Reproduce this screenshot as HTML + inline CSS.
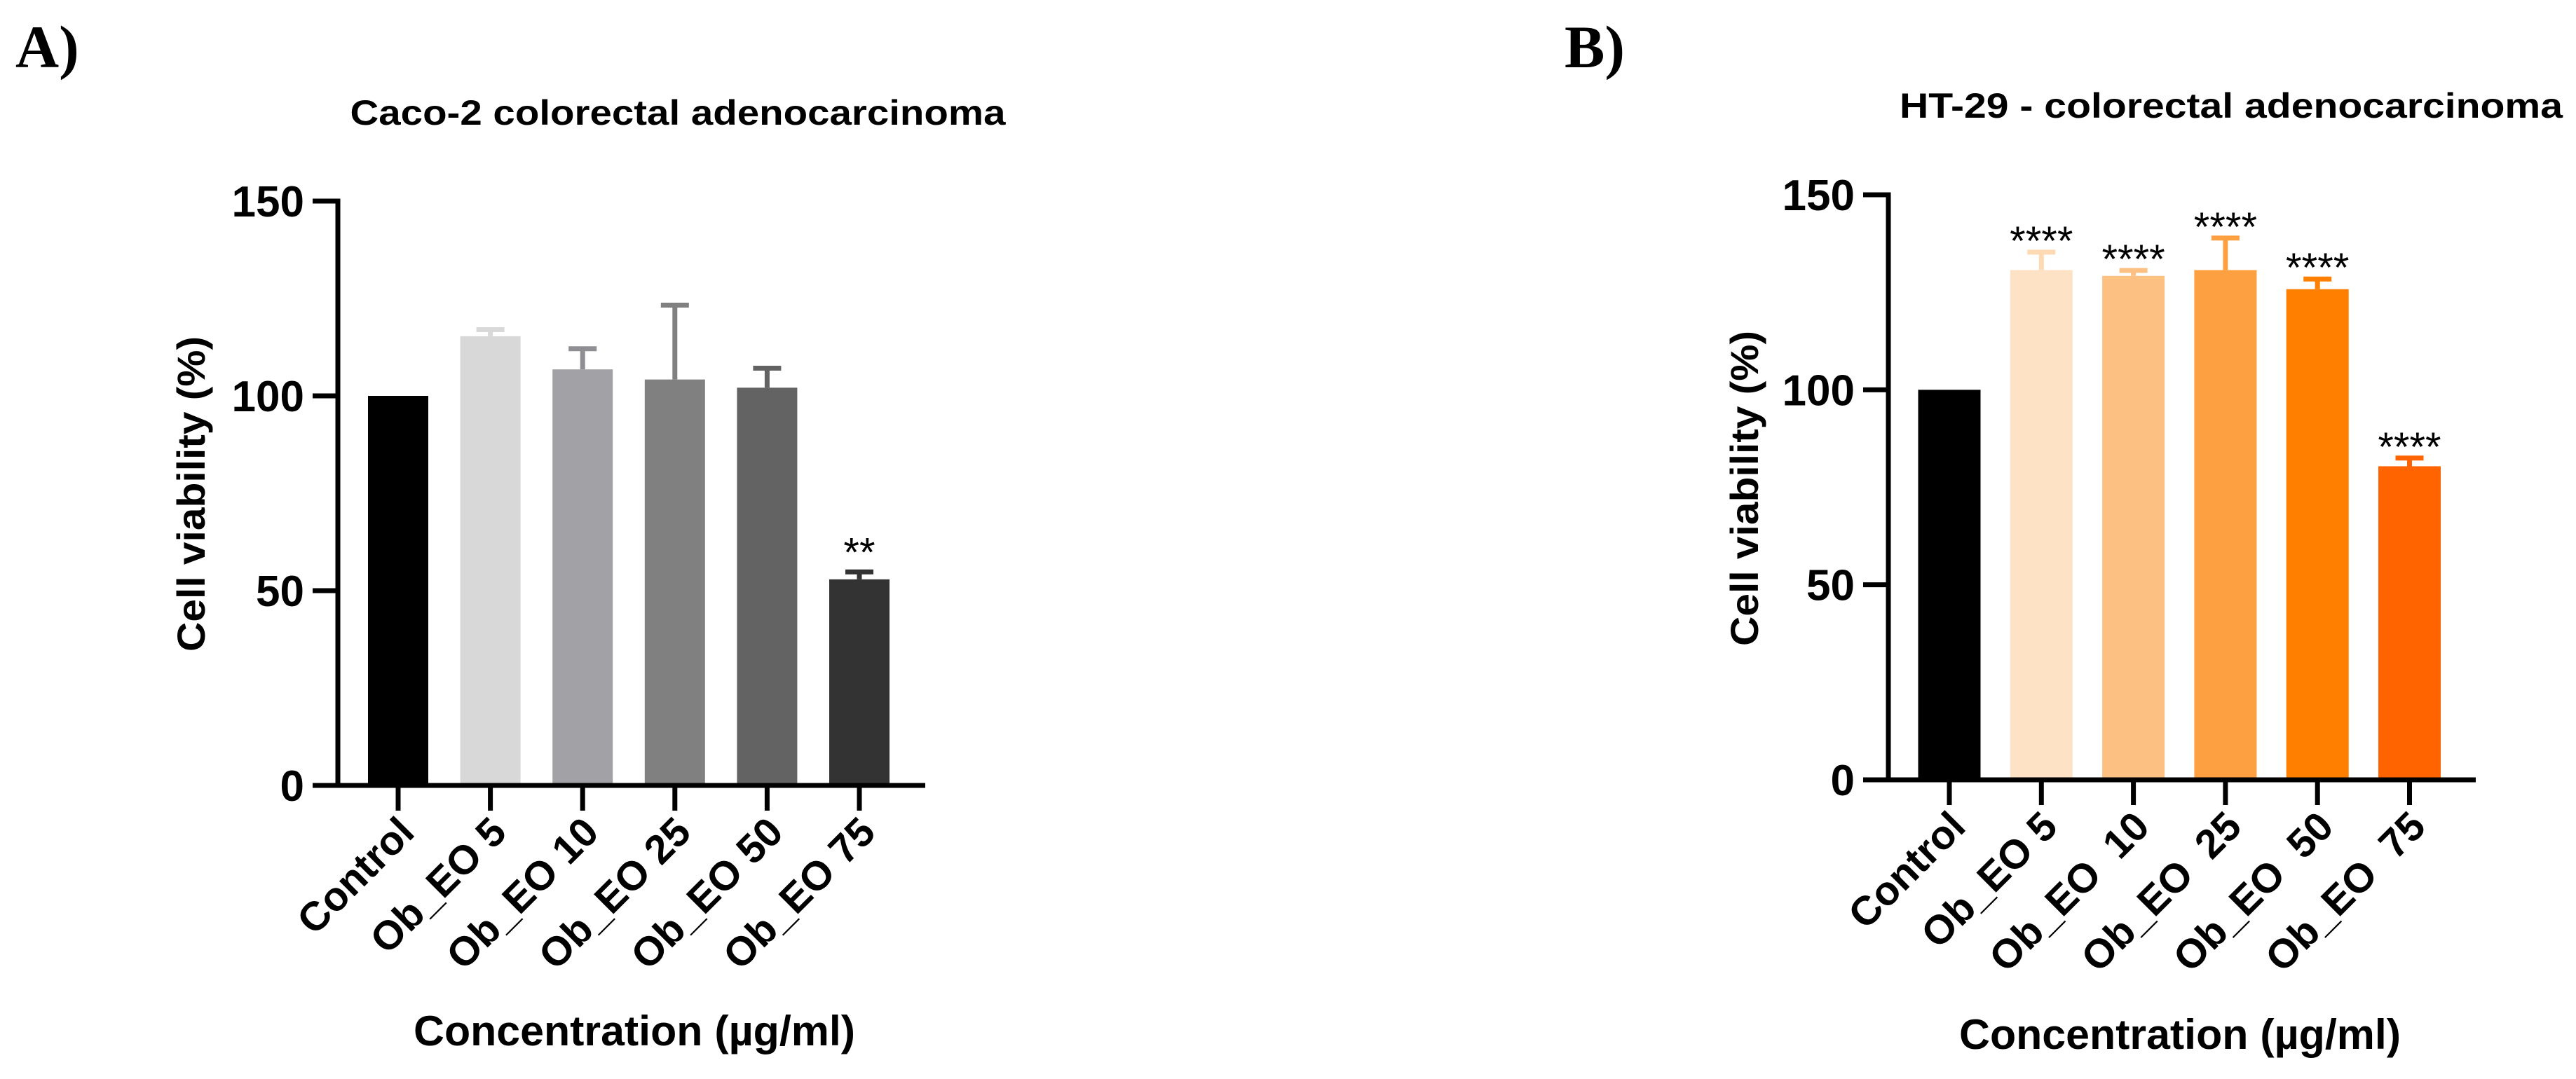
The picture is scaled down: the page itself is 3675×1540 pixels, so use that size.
<!DOCTYPE html>
<html><head><meta charset="utf-8"><style>
html,body{margin:0;padding:0;background:#fff;}
svg{display:block;font-family:"Liberation Sans",Arial,sans-serif;font-weight:bold;}
</style></head><body>
<svg id="chart" width="3675" height="1540" viewBox="0 0 3675 1540" xmlns="http://www.w3.org/2000/svg">
<text x="22" y="96" font-family="Liberation Serif,serif" font-size="86" font-weight="bold">A)</text>
<text x="2232" y="96" font-family="Liberation Serif,serif" font-size="86" font-weight="bold">B)</text>
<text x="967" y="178" text-anchor="middle" font-size="50" textLength="935" lengthAdjust="spacingAndGlyphs">Caco-2 colorectal adenocarcinoma</text>
<text x="3183" y="168" text-anchor="middle" font-size="50" textLength="946" lengthAdjust="spacingAndGlyphs">HT-29 - colorectal adenocarcinoma</text>
<g id="panelA"></g>
<g id="panelB"></g>
</svg>
<script>
const categoriesA = ["Control","Ob_EO 5","Ob_EO 10","Ob_EO 25","Ob_EO 50","Ob_EO 75"];
const valuesA = [100, 115.3, 106.8, 104.2, 102.1, 52.9];
const errorsA = [0, 1.7, 5.3, 19.1, 5.0, 1.9];
const starsA = ["", "", "", "", "", "**"];
const categoriesB = ["Control","Ob_EO 5","Ob_EO\u00a0\u00a010","Ob_EO\u00a0\u00a025","Ob_EO\u00a0\u00a050","Ob_EO\u00a0\u00a075"];
const valuesB = [100, 130.7, 129.2, 130.7, 125.8, 80.4];
const errorsB = [0, 4.6, 1.4, 8.2, 2.6, 2.1];
const starsB = ["", "****", "****", "****", "****", "****"];
const yTicks = [0, 50, 100, 150];
const yTickLabels = ["0", "50", "100", "150"];

const NS = "http://www.w3.org/2000/svg";
function mk(tag, attrs, parent){
  const e = document.createElementNS(NS, tag);
  for (const k in attrs) e.setAttribute(k, attrs[k]);
  parent.appendChild(e);
  return e;
}
function drawPanel(g, cfg, cats, vals, errs, stars, colors, errColors){
  const y = v => cfg.y0 - (cfg.y0 - cfg.y150) * v / 150;
  const x = i => cfg.x0 + i * cfg.pitch;
  cats.forEach((c, i) => {
    const r = mk('rect', {x: x(i) - cfg.bw/2, y: y(vals[i]), width: cfg.bw, height: cfg.y0 - y(vals[i]), fill: colors[i]}, g);
    
    
    if (errs[i] > 0) {
      const top = y(vals[i] + errs[i]);
      const eb = mk('path', {d: `M${x(i)} ${y(vals[i])} V${top} M${x(i)-20} ${top} H${x(i)+20}`, stroke: errColors[i], 'stroke-width': 7, fill: 'none'}, g);
      
      
    }
    if (stars[i]) {
      const st = mk('text', {x: x(i), y: y(vals[i] + errs[i]) - cfg.starGap, 'text-anchor': 'middle', 'font-size': 58, 'font-weight': 'normal'}, g);
      st.textContent = stars[i];
      
      
    }
    const t = mk('line', {x1: x(i), x2: x(i), y1: cfg.y0, y2: cfg.y0 + 36, stroke: '#000', 'stroke-width': 7}, g);
    
    
    const lx = x(i) + 26, ly = cfg.y0 + 70;
    const lb = mk('text', {x: lx, y: ly, 'text-anchor': 'end', 'font-size': 58, transform: `rotate(-45 ${lx} ${ly})`}, g);
    lb.textContent = c;
    
    
  });
  const ya = mk('line', {x1: cfg.ax, x2: cfg.ax, y1: cfg.y150 - 3.5, y2: cfg.y0 + 3.5, stroke: '#000', 'stroke-width': 7}, g);
  
  
  const xa = mk('line', {x1: cfg.ax - 36, x2: cfg.xEnd, y1: cfg.y0, y2: cfg.y0, stroke: '#000', 'stroke-width': 7}, g);
  
  
  yTicks.forEach((v, i) => {
    const tk = mk('line', {x1: cfg.ax - 36, x2: cfg.ax, y1: y(v), y2: y(v), stroke: '#000', 'stroke-width': 7}, g);
    
    
    const tl = mk('text', {x: cfg.ax - 48, y: y(v) + 22, 'text-anchor': 'end', 'font-size': 62}, g);
    tl.textContent = yTickLabels[i];
    
    
  });
  const yl = mk('text', {x: cfg.ylx, y: cfg.yly, 'text-anchor': 'middle', 'font-size': 56, transform: `rotate(-90 ${cfg.ylx} ${cfg.yly})`, textLength: 450, lengthAdjust: 'spacingAndGlyphs'}, g);
  yl.textContent = 'Cell viability (%)';
  
  
  const xl = mk('text', {x: cfg.xlx, y: cfg.xly, 'text-anchor': 'middle', 'font-size': 60, textLength: 630, lengthAdjust: 'spacingAndGlyphs'}, g);
  xl.textContent = 'Concentration (\u00b5g/ml)';
  
  
}
drawPanel(document.getElementById('panelA'),
  {x0: 568, pitch: 131.6, bw: 86, y0: 1121, y150: 287, ax: 482, xEnd: 1320, starGap: 8, ylx: 292, yly: 705, xlx: 905, xly: 1492},
  categoriesA, valuesA, errorsA, starsA,
  ['#000000','#d8d8d8','#a1a1a6','#808080','#636363','#333333'],
  ['#000000','#d8d8d8','#8e8e93','#808080','#636363','#333333']);
drawPanel(document.getElementById('panelB'),
  {x0: 2781, pitch: 131.3, bw: 89, y0: 1113, y150: 278, ax: 2694, xEnd: 3532, starGap: -4, ylx: 2508, yly: 697, xlx: 3110, xly: 1497},
  categoriesB, valuesB, errorsB, starsB,
  ['#000000','#fde2c6','#fdc083','#fda042','#ff8000','#ff6400'],
  ['#000000','#fdd9b4','#fdc083','#fda042','#ff8000','#ff6400']);
</script>
</body></html>
